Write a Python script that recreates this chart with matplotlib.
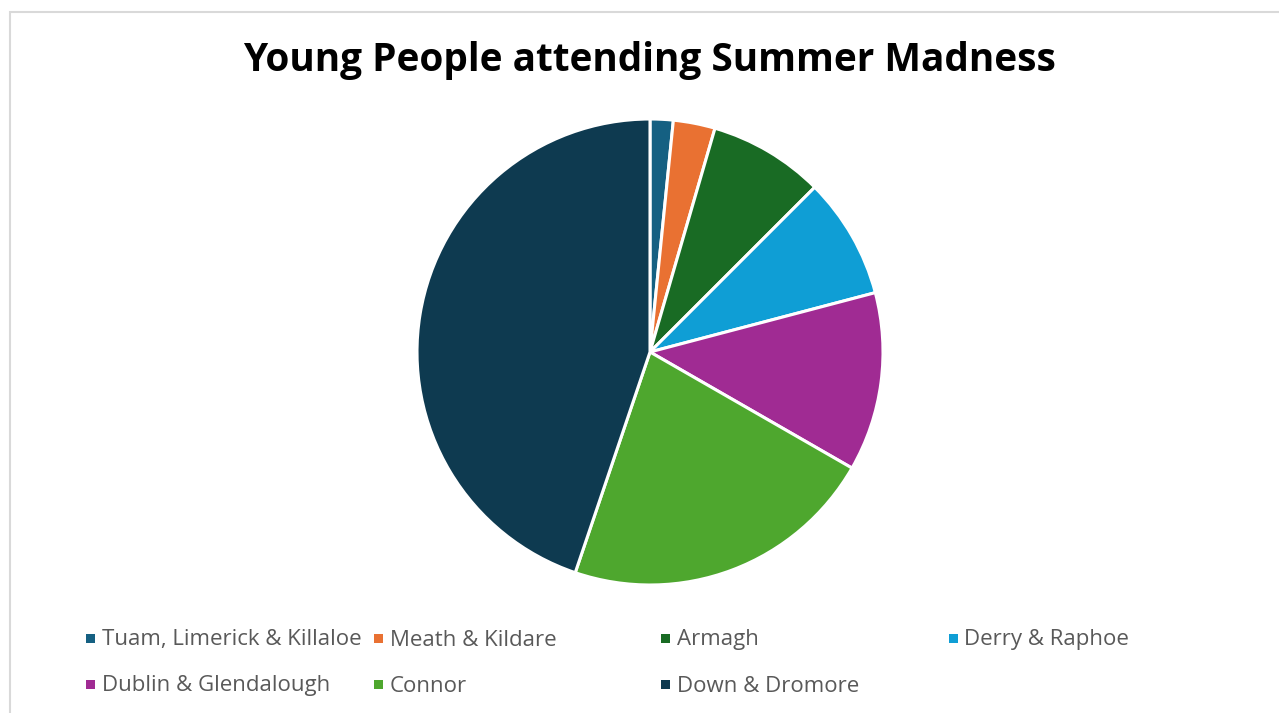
import matplotlib.pyplot as plt
from matplotlib.patches import Rectangle

# data (share of young people, %)
regions = ['Tuam, Limerick & Killaloe', 'Meath & Kildare', 'Armagh', 'Derry & Raphoe',
           'Dublin & Glendalough', 'Connor', 'Down & Dromore']
shares = [1.6, 2.9, 8.0, 8.4, 12.4, 21.9, 44.8]
colours = ['#156082', '#E97132', '#196B24', '#0F9ED5', '#A02B93', '#4EA72E', '#0E3A50']

W, H = 1279, 713
fig = plt.figure(figsize=(W/100, H/100), dpi=100)
fig.patch.set_facecolor('white')

# chart area border (only left and top edge visible)
fig.patches.append(Rectangle((9.5/W, -0.1), 1.2, (H-12.5)/H + 0.1, transform=fig.transFigure,
                             fill=False, edgecolor='#D9D9D9', linewidth=1.5))

# pie
cx, cy, r = 650, 352, 233
ax = fig.add_axes([(cx-r)/W, (H-cy-r)/H, 2*r/W, 2*r/H])
ax.pie(shares, colors=colours, startangle=90, counterclock=False, radius=1,
       wedgeprops=dict(edgecolor='white', linewidth=2.2))
ax.set_xlim(-1, 1)
ax.set_ylim(-1, 1)
ax.set_aspect('auto')
ax.axis('off')

fig.text(649/W, 1 - 61/H, 'Young People attending Summer Madness', ha='center', va='center',
         fontsize=27.9, fontweight='bold', family='Open Sans', color='black')

# legend, 4 equal columns like Excel
for i, (name, col) in enumerate(zip(regions, colours)):
    c, row = i % 4, i // 4
    x = 86 + c*287.5
    y = 638 + row*46
    fig.patches.append(Rectangle((x/W, (H-y-4.5)/H), 9/W, 9/H, transform=fig.transFigure,
                                 facecolor=col, edgecolor='none'))
    fig.text((x+16)/W, 1 - (y+2)/H, name, ha='left', va='center', fontsize=16,
             family='Open Sans', color='#595959')

fig.savefig('out.png', dpi=100)
